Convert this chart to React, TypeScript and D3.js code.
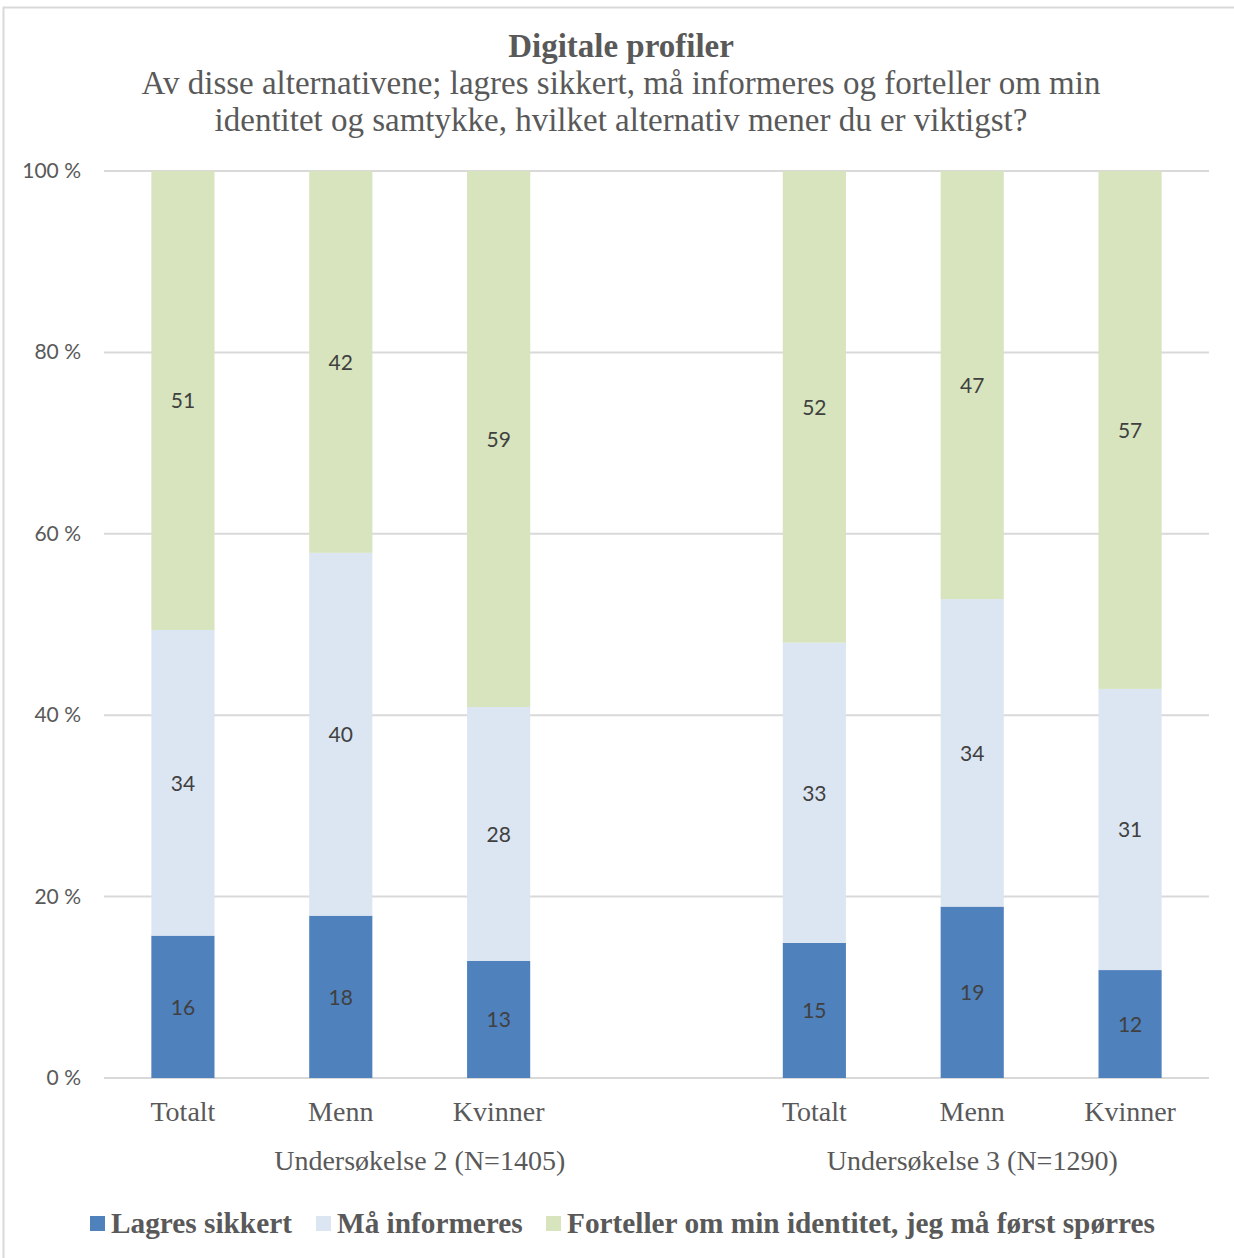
import React, { useEffect, useRef } from 'react';
import * as d3 from 'd3';

// Two surveys, with an empty slot after the first (as Excel draws it)
const categories = ['Totalt', 'Menn', 'Kvinner', '', 'Totalt', 'Menn', 'Kvinner'];
const slots = ['t2', 'm2', 'k2', 'gap', 't3', 'm3', 'k3'];
const groupLabels = ['Undersøkelse 2 (N=1405)', 'Undersøkelse 3 (N=1290)'];
const groupSlots = [['t2', 'gap'], ['t3', 'k3']];

const seriesNames = ['Lagres sikkert', 'Må informeres', 'Forteller om min identitet, jeg må først spørres'];
const lagres = [15.7, 17.9, 12.9, null, 14.9, 18.9, 11.9];
const informeres = [33.7, 40.0, 28.0, null, 33.1, 33.9, 31.0];
const forteller = [50.6, 42.1, 59.1, null, 52.0, 47.2, 57.1];
// printed labels
const lagresLbl = ['16', '18', '13', '', '15', '19', '12'];
const informeresLbl = ['34', '40', '28', '', '33', '34', '31'];
const fortellerLbl = ['51', '42', '59', '', '52', '47', '57'];

const yTicks = [0, 20, 40, 60, 80, 100];
const colors = ['#4F81BD', '#DCE6F2', '#D7E4BD'];

export default function App() {
    const svgRef = useRef<SVGSVGElement>(null);

    useEffect(() => {
        if (!svgRef.current) return;
        const width = 1234;
        const height = 1258;
        const margin = { top: 171, right: 25, bottom: 180, left: 104 };

        const svg = d3.select(svgRef.current)
            .attr('width', width)
            .attr('height', height);
        svg.selectAll('*').remove();

        const serif = '"Liberation Serif", "Times New Roman", serif';
        const sans = 'Lato, "Open Sans", sans-serif';

        // outer frame
        svg.append('rect')
            .attr('x', 3.5).attr('y', 7.5)
            .attr('width', width + 10).attr('height', height + 10)
            .attr('fill', '#fff').attr('stroke', '#D9D9D9').attr('stroke-width', 2);

        const x = d3.scaleBand()
            .domain(slots)
            .range([margin.left, width - margin.right])
            .paddingInner(0.6).paddingOuter(0.3);
        const step = x.step();

        const y = d3.scaleLinear()
            .domain([0, 100])
            .range([height - margin.bottom, margin.top]);

        // gridlines
        svg.append('g')
            .selectAll('line')
            .data(yTicks)
            .enter()
            .append('line')
            .attr('x1', margin.left).attr('x2', width - margin.right)
            .attr('y1', d => y(d)).attr('y2', d => y(d))
            .attr('stroke', '#D9D9D9').attr('stroke-width', 2);

        // y tick labels
        svg.append('g')
            .selectAll('text')
            .data(yTicks)
            .enter()
            .append('text')
            .attr('x', 81).attr('y', d => y(d) + 7)
            .attr('text-anchor', 'end')
            .attr('font-family', sans).attr('font-size', 21)
            .attr('fill', '#595959')
            .text(d => `${d} %`);

        const rows = slots.map((s, i) => ({
            slot: s,
            lagres: lagres[i] ?? 0,
            informeres: informeres[i] ?? 0,
            forteller: forteller[i] ?? 0,
            labels: [lagresLbl[i], informeresLbl[i], fortellerLbl[i]],
        })).filter(d => d.slot !== 'gap');

        const stack = d3.stack<any>().keys(['lagres', 'informeres', 'forteller']);
        const stacked = stack(rows);

        stacked.forEach((layer, li) => {
            const g = svg.append('g');
            g.selectAll('rect')
                .data(layer)
                .enter()
                .append('rect')
                .attr('x', d => x(d.data.slot)!)
                .attr('width', x.bandwidth())
                .attr('y', d => y(d[1]))
                .attr('height', d => y(d[0]) - y(d[1]))
                .attr('fill', colors[li]);
            g.selectAll('text')
                .data(layer)
                .enter()
                .append('text')
                .attr('x', d => x(d.data.slot)! + x.bandwidth() / 2)
                .attr('y', d => (y(d[0]) + y(d[1])) / 2 + 8)
                .attr('text-anchor', 'middle')
                .attr('font-family', sans).attr('font-size', 21)
                .attr('fill', '#404040')
                .text(d => d.data.labels[li]);
        });

        // category labels
        svg.append('g')
            .selectAll('text')
            .data(slots.map((s, i) => ({ s, c: categories[i] })).filter(d => d.c))
            .enter()
            .append('text')
            .attr('x', d => x(d.s)! + x.bandwidth() / 2)
            .attr('y', 1121)
            .attr('text-anchor', 'middle')
            .attr('font-family', serif).attr('font-size', 28)
            .attr('fill', '#595959')
            .text(d => d.c);

        // group labels, centred on the slots each group spans
        const groupCenters = groupSlots.map(([a, b]) =>
            (x(a)! + x.bandwidth() / 2 - step / 2 + x(b)! + x.bandwidth() / 2 + step / 2) / 2);
        svg.append('g')
            .selectAll('text')
            .data(groupLabels)
            .enter()
            .append('text')
            .attr('x', (d, i) => groupCenters[i])
            .attr('y', 1170)
            .attr('text-anchor', 'middle')
            .attr('font-family', serif).attr('font-size', 28)
            .attr('fill', '#595959')
            .text(d => d);

        // title
        const title = svg.append('g').attr('font-family', serif).attr('fill', '#595959').attr('text-anchor', 'middle');
        title.append('text').attr('x', 621).attr('y', 57).attr('font-size', 33).attr('font-weight', 'bold')
            .text('Digitale profiler');
        title.append('text').attr('x', 621).attr('y', 94).attr('font-size', 33)
            .text('Av disse alternativene; lagres sikkert, må informeres og forteller om min');
        title.append('text').attr('x', 621).attr('y', 131).attr('font-size', 33)
            .text('identitet og samtykke, hvilket alternativ mener du er viktigst?');

        // legend
        const legendX = [90, 316, 546];
        const lg = svg.append('g');
        seriesNames.forEach((name, i) => {
            lg.append('rect')
                .attr('x', legendX[i]).attr('y', 1216)
                .attr('width', 15).attr('height', 15)
                .attr('fill', colors[i]);
            lg.append('text')
                .attr('x', legendX[i] + 21).attr('y', 1233)
                .attr('font-family', serif).attr('font-size', 29.3).attr('font-weight', 'bold')
                .attr('fill', '#595959')
                .text(name);
        });
    }, []);

    return (
        <svg ref={svgRef} style={{ position: 'absolute', left: 0, top: 0 }}></svg>
    );
}
